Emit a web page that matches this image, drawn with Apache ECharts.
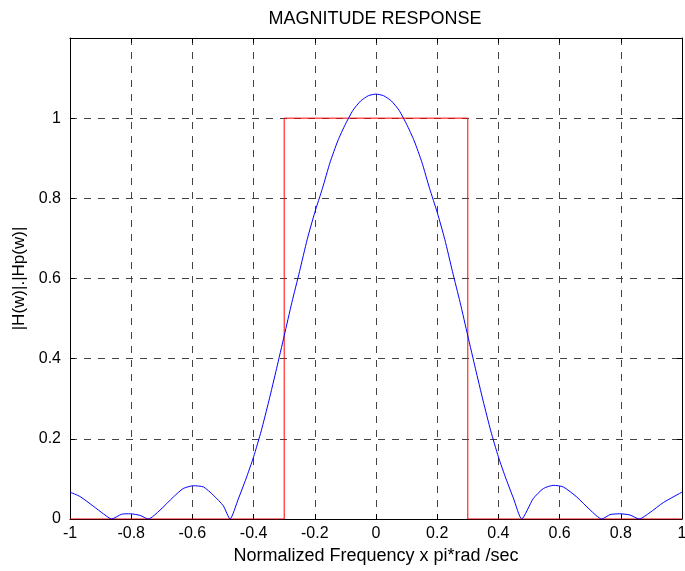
<!DOCTYPE html>
<html>
<head>
<meta charset="utf-8">
<script src="https://cdn.jsdelivr.net/npm/echarts@6/dist/echarts.min.js"></script>
<style>
html,body{margin:0;padding:0;background:#fff;}
#chart{width:685px;height:571px;}
</style>
</head>
<body>
<div id="chart"></div>
<script>
// Blue curve |H(w)|
var freqH = [-1, -0.967, -0.924, -0.891, -0.864, -0.831, -0.803, -0.771, -0.744, -0.706, -0.662, -0.630, -0.597, -0.564, -0.531, -0.499, -0.477,
  -0.45, -0.425, -0.4, -0.375, -0.35, -0.325, -0.3, -0.275, -0.25, -0.225, -0.2, -0.175, -0.15, -0.125, -0.1, -0.075, -0.05, -0.025,
  0, 0.025, 0.05, 0.075, 0.1, 0.125, 0.15, 0.175, 0.2, 0.225, 0.25, 0.275, 0.3, 0.325, 0.35, 0.375, 0.4, 0.425, 0.45,
  0.476, 0.514, 0.547, 0.580, 0.612, 0.656, 0.699, 0.738, 0.765, 0.797, 0.830, 0.860, 0.895, 0.939, 1.0];
var magH = [0.067, 0.056, 0.032, 0.013, 0.0, 0.012, 0.013, 0.009, 0.0, 0.022, 0.055, 0.076, 0.083, 0.080, 0.059, 0.033, 0.0,
  0.05, 0.10, 0.155, 0.22, 0.295, 0.375, 0.457, 0.540, 0.617, 0.697, 0.765, 0.825, 0.89, 0.943, 0.985, 1.02, 1.043, 1.056,
  1.06, 1.056, 1.043, 1.02, 0.985, 0.943, 0.89, 0.825, 0.765, 0.697, 0.617, 0.540, 0.457, 0.375, 0.295, 0.22, 0.155, 0.10, 0.05,
  0.0, 0.051, 0.076, 0.084, 0.080, 0.055, 0.023, 0.0, 0.011, 0.013, 0.010, 0.0, 0.016, 0.041, 0.067];
// Red ideal response |Hp(w)|
var freqHp = [-1, -0.3, -0.3, 0.3, 0.3, 1];
var magHp = [0, 0, 1, 1, 0, 0];

var titleText = 'MAGNITUDE RESPONSE';
var xLabelText = 'Normalized Frequency x pi*rad /sec';
var yLabelText = '|H(w)|.|Hp(w)|';

function pairs(xs, ys){ return xs.map(function(x,i){ return [x, ys[i]]; }); }

var font = 'Liberation Sans, Arial, sans-serif';
var chart = echarts.init(document.getElementById('chart'), null, {renderer:'canvas'});
var gridDash = {show:true, lineStyle:{color:'#444', type:[7,7], width:1}};
chart.setOption({
  animation:false,
  backgroundColor:'#fff',
  title:{text:titleText, left:370, top:5, textAlign:'center',
    textStyle:{fontFamily:font, fontSize:18, fontWeight:'normal', color:'#000'}},
  grid:{left:70, right:3, top:38, bottom:52, show:false, outerBoundsMode:'none', containLabel:false},
  xAxis:[{
    type:'value', min:-1, max:1, interval:0.2, position:'bottom',
    name:xLabelText, nameLocation:'middle', nameGap:27,
    nameTextStyle:{fontFamily:font, fontSize:18, color:'#000'},
    axisLine:{show:true, onZero:false, lineStyle:{color:'#000', width:1}},
    axisTick:{show:true, inside:true, length:5, lineStyle:{color:'#000'}},
    axisLabel:{fontFamily:font, fontSize:16, color:'#000', margin:7,
      formatter:function(v){ return String(Math.round(v*10)/10); }},
    splitLine:gridDash
  },{
    type:'value', min:-1, max:1, interval:0.2, position:'top',
    axisLine:{show:true, onZero:false, lineStyle:{color:'#000', width:1}},
    axisTick:{show:true, inside:true, length:5, lineStyle:{color:'#000'}},
    axisLabel:{show:false}, splitLine:{show:false}
  }],
  yAxis:[{
    type:'value', min:0, max:1.2, interval:0.2, position:'left',
    name:yLabelText, nameLocation:'middle', nameGap:42, nameRotate:90,
    nameTextStyle:{fontFamily:font, fontSize:17, color:'#000'},
    axisLine:{show:true, onZero:false, lineStyle:{color:'#000', width:1}},
    axisTick:{show:true, inside:true, length:5, lineStyle:{color:'#000'}},
    axisLabel:{fontFamily:font, fontSize:16, color:'#000', margin:9,
      formatter:function(v){ var r=Math.round(v*10)/10; return r>1.1 ? '' : String(r); }},
    splitLine:gridDash
  },{
    type:'value', min:0, max:1.2, interval:0.2, position:'right',
    axisLine:{show:true, onZero:false, lineStyle:{color:'#000', width:1}},
    axisTick:{show:true, inside:true, length:5, lineStyle:{color:'#000'}},
    axisLabel:{show:false}, splitLine:{show:false}
  }],
  series:[{
    type:'line', data:pairs(freqHp, magHp), xAxisIndex:0, yAxisIndex:0,
    showSymbol:false, lineStyle:{color:'#ff0000', width:1}, z:3
  },{
    type:'line', data:pairs(freqH, magH), xAxisIndex:0, yAxisIndex:0,
    showSymbol:false, smooth:0.2, lineStyle:{color:'#0000ff', width:1}, z:4
  }]
});
</script>
</body>
</html>
